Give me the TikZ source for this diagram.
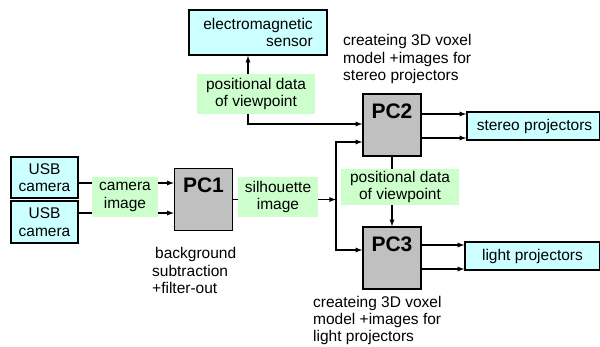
\documentclass[tikz,border=0pt]{standalone}
\usepackage{fontspec}
\setmainfont{Liberation Sans}
\definecolor{devcyan}{RGB}{204,255,255}
\definecolor{datagreen}{RGB}{204,255,204}
\definecolor{pcgray}{RGB}{192,192,192}
\tikzset{
  txt/.style={font=\fontsize{15.5}{17.5}\selectfont},
  devbox/.style={txt, draw, line width=1.5pt, fill=devcyan, inner sep=0pt},
  databox/.style={txt, fill=datagreen, align=center, inner sep=0pt},
  pcbox/.style={draw, line width=1.5pt, fill=pcgray, minimum width=58pt, minimum height=62pt, inner sep=0pt,
    label={[anchor=north, inner sep=0pt, yshift=-10pt, font=\fontsize{21}{21}\bfseries\selectfont]north:#1}},
  note/.style={txt, align=left, inner sep=0pt, anchor=base west},
  flow/.style={line width=1.3pt, ->, >=latex}
}
\begin{document}
\begin{tikzpicture}[x=1pt, y=-1pt]
\clip (0,0) rectangle (600,347);

% devices
\node[devbox, align=right, minimum width=138pt, minimum height=45pt] (sensor) at (258,32.5) {electromagnetic\\sensor};
\node[devbox, align=center, minimum width=67pt, minimum height=41pt] (usb1) at (44.5,177.5) {USB\\camera};
\node[devbox, align=center, minimum width=67pt, minimum height=42pt] (usb2) at (44.5,222) {USB\\camera};
\node[devbox, minimum width=133pt, minimum height=28pt] (stereo) at (533.5,126) {\hspace*{2pt}stereo projectors};
\node[devbox, minimum width=135pt, minimum height=28pt] (light) at (532.5,256) {light projectors};

% PCs
\node[pcbox=PC1] (pc1) at (203.5,199.5) {};
\node[pcbox=PC2] (pc2) at (392,125) {};
\node[pcbox=PC3] (pc3) at (392,258) {};

\coordinate (tap) at (248,124);
\coordinate (split) at (336,199.5);

% connectors
\draw[flow] ([yshift=-5.5pt]usb1.east) -- ([yshift=-5.5pt]usb1.east -| pc1.west);
\draw[flow] ([yshift=9pt]usb2.east) -- ([yshift=9pt]usb2.east -| pc1.west);
\draw[flow] (pc1.east) -- (split);
\draw[flow] (split) |- ([yshift=-17pt]pc2.west);
\draw[flow] (split) |- ([yshift=8pt]pc3.west);
\draw[flow] (pc2.south) -- (pc3.north);
\draw[flow] ([yshift=11pt]pc2.east) -- ([yshift=11pt]pc2.east -| stereo.west);
\draw[flow] ([yshift=-13pt]pc2.east) -- ([yshift=-13pt]pc2.east -| stereo.west);
\draw[flow] ([yshift=13pt]pc3.east) -- ([yshift=13pt]pc3.east -| light.west);
\draw[flow] ([yshift=-11pt]pc3.east) -- ([yshift=-11pt]pc3.east -| light.west);

% data labels
\node[databox, minimum width=66pt, minimum height=40pt] (camimg) at (125,197) {camera\\image};
\node[databox, minimum width=80pt, minimum height=40pt] (silimg) at (278,197) {silhouette\\image};
\node[databox, minimum width=118pt, minimum height=40pt] (posA) at (256,94) {positional data\\of viewpoint};
\node[databox, minimum width=118pt, minimum height=36pt] (posB) at (400,187) {positional data\\of viewpoint};

\draw[flow] (posA.north -| tap) -- (sensor.south -| tap);
\draw[flow] (posA.south -| tap) |- ([yshift=1pt]pc2.west);

% notes (anchored at the baseline of the last line)
\node[note] (pc1note) at (152,294) {\hspace*{3pt}background\\subtraction\\+filter-out};
\node[note] (pc2note) at (343,81) {createing 3D voxel\\model +images for\\stereo projectors};
\node[note] (pc3note) at (313,342) {createing 3D voxel\\model +images for\\light projectors};
\end{tikzpicture}
\end{document}
